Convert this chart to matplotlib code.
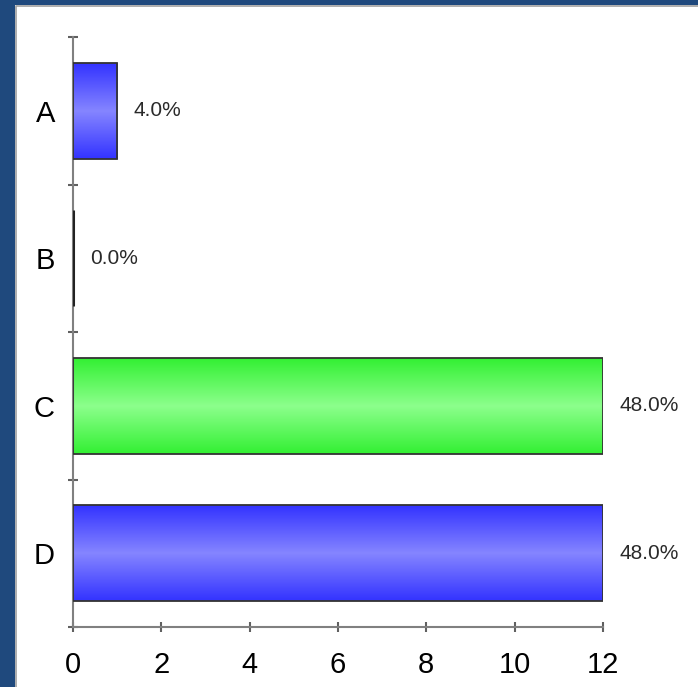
import numpy as np
import matplotlib
matplotlib.use("Agg")
import matplotlib.pyplot as plt
from matplotlib.colors import LinearSegmentedColormap

# data
categories = ["A", "B", "C", "D"]
values = [1, 0, 12, 12]
percent_labels = ["4.0%", "0.0%", "48.0%", "48.0%"]
bar_colors = [("#3333ff", "#8585ff"), ("#3333ff", "#8585ff"),
              ("#33f033", "#8cff8c"), ("#3333ff", "#8585ff")]
x_ticks = [0, 2, 4, 6, 8, 10, 12]

plt.rcParams['font.family'] = ['Liberation Sans', 'DejaVu Sans']

fig = plt.figure(figsize=(6.98, 6.87), dpi=100)
fig.patch.set_facecolor("white")

# dark blue frame on left and top
frame = fig.add_axes([0, 0, 1, 1], zorder=-5)
frame.set_xlim(0, 698)
frame.set_ylim(687, 0)
frame.axis("off")
frame.add_patch(plt.Rectangle((0, 0), 698, 5, color="#1f497d", lw=0))
frame.add_patch(plt.Rectangle((0, 0), 15, 687, color="#1f497d", lw=0))
frame.plot([15.5, 15.5, 698], [687, 5.5, 5.5], color="#a0a0a0", lw=1.2)

ax = fig.add_axes([73 / 698, 60 / 687, 530 / 698, 590 / 687])
ax.set_xlim(0, 12)
ax.set_ylim(3.5, -0.5)

bar_h = 0.65
ypos = np.arange(len(categories))
bars = ax.barh(ypos, values, height=bar_h, color="none",
               edgecolor="#333333", linewidth=1.3, zorder=3)

grad = np.abs(np.linspace(-1, 1, 200)).reshape(-1, 1)
for b, (edge_c, mid_c), v in zip(bars, bar_colors, values):
    if v <= 0:
        b.set_linewidth(2.2)
        b.set_edgecolor("#222222")
        continue
    cmap = LinearSegmentedColormap.from_list("g", [mid_c, edge_c])
    y0 = b.get_y()
    im = ax.imshow(grad, cmap=cmap, aspect="auto", vmin=0, vmax=1,
                   extent=[0, v, y0 + bar_h, y0], zorder=2,
                   interpolation="bilinear")
    im.set_clip_path(b)

for y, v, lab in zip(ypos, values, percent_labels):
    ax.annotate(lab, (v, y), xytext=(12, 0), textcoords="offset points",
                va="center", ha="left", fontsize=15, color="#2a2a2a")

for s in ["top", "right"]:
    ax.spines[s].set_visible(False)
for s in ["left", "bottom"]:
    ax.spines[s].set_color("#808080")
    ax.spines[s].set_linewidth(1.5)

ax.set_yticks(ypos)
ax.set_yticklabels(categories, fontsize=21)
ax.tick_params(axis="y", length=0, pad=13)
ax.set_yticks(np.arange(-0.5, len(categories), 1), minor=True)
ax.tick_params(axis="y", which="minor", direction="inout", length=7,
               width=1.5, color="#606060")

ax.set_xticks(x_ticks)
ax.set_xticklabels([str(t) for t in x_ticks], fontsize=21)
ax.tick_params(axis="x", direction="inout", length=7, width=1.5,
               color="#606060", pad=14)

ax.set_facecolor("none")
fig.savefig("out.png", dpi=100, facecolor="white")
